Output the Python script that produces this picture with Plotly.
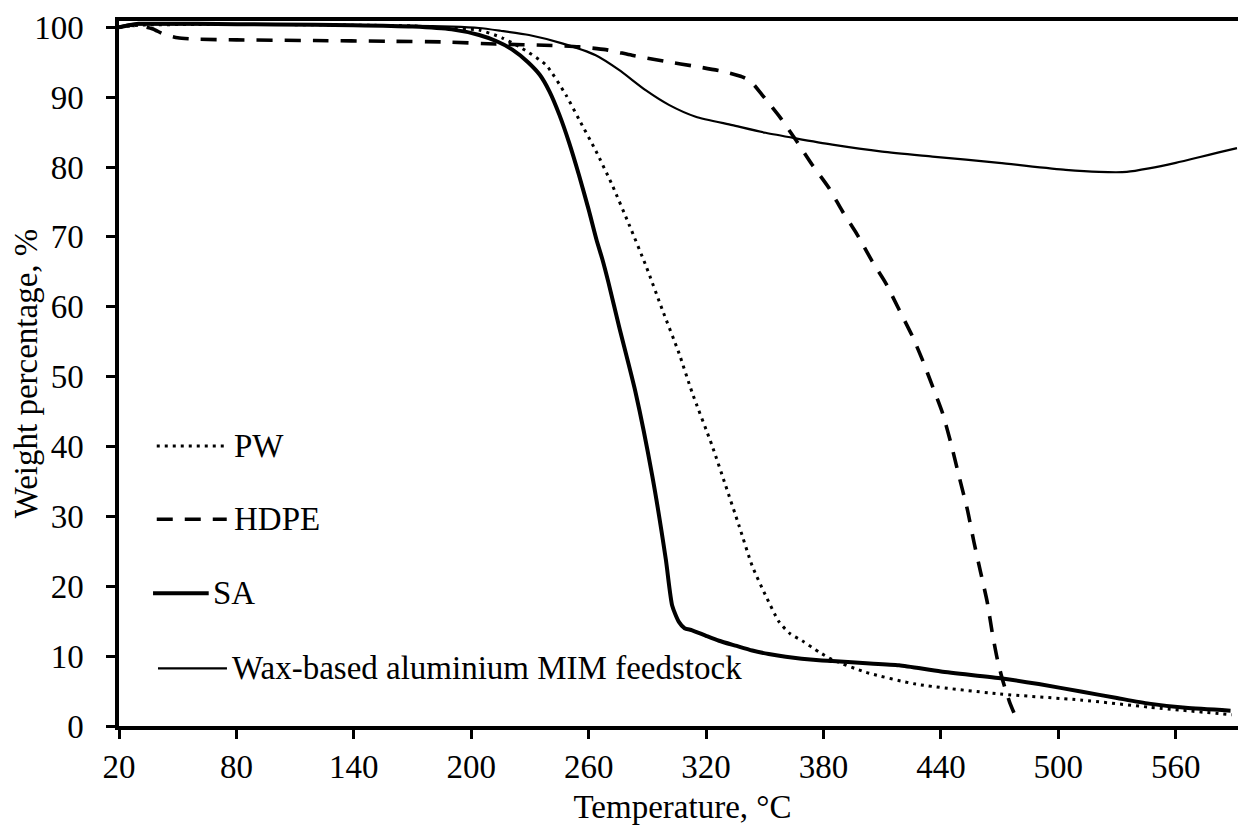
import plotly.graph_objects as go

# ---- data ----
pw_T = [20, 30, 60, 100, 140, 170, 187, 204, 215.7, 225.9, 238.2, 248.4, 255.1, 263.7, 271.9,
        280.6, 289.5, 297.6, 306.1, 312.9, 323.1, 330, 336.8, 343.6, 350.4, 357.3, 363, 369.1,
        377.7, 384.5, 401.5, 427.1, 469.7, 512.2, 546.3, 588.7]
pw_W = [100.0, 100.3, 100.4, 100.4, 100.3, 100.2, 99.9, 99.6, 98.5, 97.0, 94.6, 90.3, 86.8, 82.3, 77.5,
        71.8, 65.7, 59.6, 53.4, 47.7, 40.1, 34.4, 28.7, 22.9, 18.7, 14.9, 13.2, 12.2,
        10.6, 9.5, 7.7, 6.0, 4.6, 3.7, 2.7, 1.6]

hdpe_T = [20, 25, 31, 37, 43, 50, 60, 80, 120, 158, 186.9, 212.5, 241.3, 255.1, 268.7, 282.1,
          299.4, 314.7, 328.3, 338.5, 343, 348.7, 358.1, 365.8, 374.3, 382.8, 389.6, 397.3,
          404.9, 411.8, 418.6, 425.4, 430.4, 435.6, 440.7, 445, 449.2, 453.5, 456.9, 460.3,
          463.7, 466.2, 468.8, 471.3, 475, 478.2]
hdpe_W = [100.0, 100.3, 100.2, 99.8, 99.0, 98.5, 98.3, 98.2, 98.1, 98.0, 97.9, 97.6, 97.4, 97.2, 96.8, 96.0,
          95.1, 94.4, 93.7, 92.9, 92.2, 90.3, 87.0, 83.9, 80.3, 77.0, 73.7, 70.3,
          66.5, 63.4, 59.6, 55.8, 52.5, 48.7, 44.9, 40.6, 35.8, 31.0, 26.3, 22.0,
          17.7, 13.4, 9.6, 6.8, 3.5, 1.3]

sa_T = [20, 25, 30, 40, 60, 100, 140, 170, 190, 204, 213, 221, 229, 235, 240, 245, 250, 255, 260,
        264, 267, 270, 275.5, 284, 292.5, 299.4, 302.7, 306.1, 309, 312.9, 320, 326.6, 335, 343.6,
        352, 360.7, 377.7, 384.5, 400, 418.6, 440, 471.4, 490, 512.2, 530, 546.3, 565, 588]
sa_W = [100.0, 100.3, 100.5, 100.5, 100.5, 100.4, 100.3, 100.1, 99.7, 98.9, 98.0, 96.8, 95.0, 93.2, 90.8,
        87.5, 83.5, 78.9, 73.9, 69.6, 66.8, 63.6, 57.2, 47.7, 35.8, 23.9, 17.2, 14.9, 14.0, 13.7,
        12.9, 12.2, 11.5, 10.8, 10.3, 9.9, 9.4, 9.3, 9.0, 8.7, 7.8, 6.8, 6.0, 4.9, 4.0, 3.2, 2.6, 2.2]

wax_T = [20, 25, 30, 60, 100, 140, 170, 190, 204, 215, 229.5, 246.4, 263.6, 275.5, 289.1, 301,
         314.7, 333.4, 350.4, 365.8, 384.5, 410, 435.6, 469.7, 503.7, 520.8, 535, 546.3, 560,
         571.9, 582, 591.3]
wax_W = [100.0, 100.3, 100.4, 100.4, 100.4, 100.3, 100.2, 100.1, 99.9, 99.5, 98.9, 97.7, 96.0, 93.9,
         91.0, 88.9, 87.2, 86.0, 84.9, 84.1, 83.2, 82.2, 81.5, 80.6, 79.6, 79.3, 79.3, 79.8, 80.6,
         81.4, 82.1, 82.7]

series_names = ["PW", "HDPE", "SA", "Wax-based aluminium MIM feedstock"]
x_ticks = [20, 80, 140, 200, 260, 320, 380, 440, 500, 560]
y_ticks = [0, 10, 20, 30, 40, 50, 60, 70, 80, 90, 100]

FONT = "Liberation Serif"
FS = 33

styles = {
    "PW": dict(color="black", width=3, dash="3px,5px"),
    "HDPE": dict(color="black", width=3.6, dash="16px,12px"),
    "SA": dict(color="black", width=4),
    "Wax-based aluminium MIM feedstock": dict(color="black", width=2.2),
}

fig = go.Figure()
for name, T, W in [("Wax-based aluminium MIM feedstock", wax_T, wax_W),
                   ("HDPE", hdpe_T, hdpe_W),
                   ("PW", pw_T, pw_W),
                   ("SA", sa_T, sa_W)]:
    fig.add_trace(go.Scatter(x=T, y=W, mode="lines", name=name, line=styles[name],
                             line_shape="spline", line_smoothing=0.6,
                             showlegend=False, cliponaxis=True))

# ---- manual legend (samples + labels) in paper coordinates ----
legend_items = [
    ("PW", 0.0335, 0.0956, 0.397, 0.1000),
    ("HDPE", 0.0335, 0.0956, 0.2932, 0.1000),
    ("SA", 0.0302, 0.0796, 0.1882, 0.0815),
    ("Wax-based aluminium MIM feedstock", 0.0346, 0.0958, 0.0818, 0.0985),
]
for name, x0, x1, yy, xt in legend_items:
    st = dict(styles[name])
    fig.add_shape(type="line", xref="paper", yref="paper", x0=x0, x1=x1, y0=yy, y1=yy,
                  line=st)
    fig.add_annotation(xref="paper", yref="paper", x=xt, y=yy, text=name, showarrow=False,
                       xanchor="left", yanchor="middle",
                       font=dict(family=FONT, size=FS, color="black"))

# page body adds an 8px offset, so the figure is sized/margined to compensate
fig.update_layout(
    width=1238, height=822,
    margin=dict(l=111, r=0, t=13, b=104),
    plot_bgcolor="white", paper_bgcolor="white",
    font=dict(family=FONT, size=FS, color="black"),
    xaxis=dict(
        range=[20, 595.9], tickmode="array", tickvals=x_ticks, ticktext=[str(v) for v in x_ticks],
        showgrid=False, zeroline=False, showline=True, linecolor="black", linewidth=3.5,
        mirror=True, ticks="outside", ticklen=9, tickwidth=3, tickcolor="black",
        ticklabelstandoff=0, automargin=False,
        title=dict(text="Temperature, °C", font=dict(family=FONT, size=FS), standoff=12),
    ),
    yaxis=dict(
        range=[0, 100.9], tickmode="array", tickvals=y_ticks, ticktext=[str(v) for v in y_ticks],
        showgrid=False, zeroline=False, showline=True, linecolor="black", linewidth=3.5,
        ticks="outside", ticklen=9, tickwidth=3, tickcolor="black",
        ticklabelstandoff=16, automargin=False,
        title=dict(text="Weight percentage, %", font=dict(family=FONT, size=FS), standoff=4),
    ),
)

fig.write_html("out.html")
